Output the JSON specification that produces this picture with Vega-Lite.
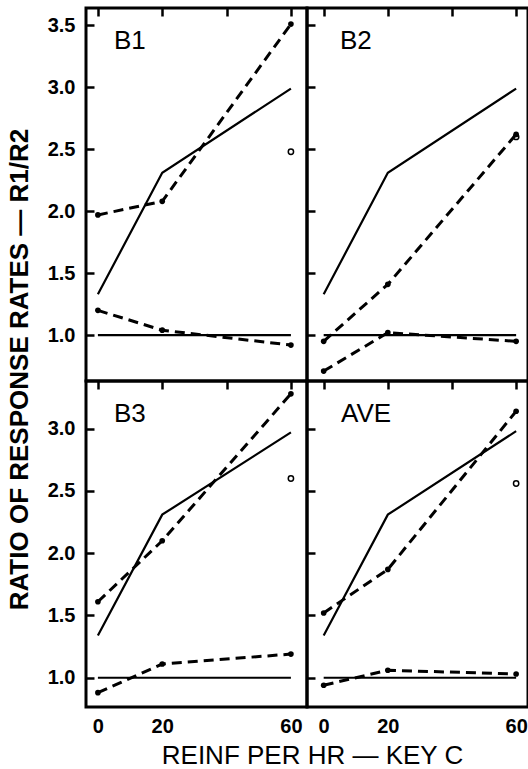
{
  "$schema": "https://vega.github.io/schema/vega-lite/v6.json",
  "padding": {"left": 4, "top": 6, "right": 0, "bottom": 0},
  "background": "white",
  "columns": 2,
  "spacing": 0,
  "bounds": "flush",
  "align": "each",
  "datasets": {
    "d": [
      {"panel": "B1", "series": "theory", "style": "solid", "x": 0, "y": 1.33},
      {"panel": "B1", "series": "theory", "style": "solid", "x": 20, "y": 2.31},
      {"panel": "B1", "series": "theory", "style": "solid", "x": 60, "y": 2.99},
      {"panel": "B1", "series": "unity", "style": "solid", "x": 0, "y": 1.0},
      {"panel": "B1", "series": "unity", "style": "solid", "x": 60, "y": 1.0},
      {"panel": "B1", "series": "upper", "style": "dashed", "x": 0, "y": 1.97},
      {"panel": "B1", "series": "upper", "style": "dashed", "x": 20, "y": 2.08},
      {"panel": "B1", "series": "upper", "style": "dashed", "x": 60, "y": 3.51},
      {"panel": "B1", "series": "lower", "style": "dashed", "x": 0, "y": 1.2},
      {"panel": "B1", "series": "lower", "style": "dashed", "x": 20, "y": 1.04},
      {"panel": "B1", "series": "lower", "style": "dashed", "x": 60, "y": 0.92},
      {"panel": "B1", "series": "open", "style": "open", "x": 60, "y": 2.48},

      {"panel": "B2", "series": "theory", "style": "solid", "x": 0, "y": 1.33},
      {"panel": "B2", "series": "theory", "style": "solid", "x": 20, "y": 2.31},
      {"panel": "B2", "series": "theory", "style": "solid", "x": 60, "y": 2.99},
      {"panel": "B2", "series": "unity", "style": "solid", "x": 0, "y": 1.0},
      {"panel": "B2", "series": "unity", "style": "solid", "x": 60, "y": 1.0},
      {"panel": "B2", "series": "upper", "style": "dashed", "x": 0, "y": 0.95},
      {"panel": "B2", "series": "upper", "style": "dashed", "x": 20, "y": 1.41},
      {"panel": "B2", "series": "upper", "style": "dashed", "x": 60, "y": 2.62},
      {"panel": "B2", "series": "lower", "style": "dashed", "x": 0, "y": 0.71},
      {"panel": "B2", "series": "lower", "style": "dashed", "x": 20, "y": 1.02},
      {"panel": "B2", "series": "lower", "style": "dashed", "x": 60, "y": 0.95},
      {"panel": "B2", "series": "open", "style": "open", "x": 60, "y": 2.6},

      {"panel": "B3", "series": "theory", "style": "solid", "x": 0, "y": 1.34},
      {"panel": "B3", "series": "theory", "style": "solid", "x": 20, "y": 2.31},
      {"panel": "B3", "series": "theory", "style": "solid", "x": 60, "y": 2.97},
      {"panel": "B3", "series": "unity", "style": "solid", "x": 0, "y": 1.0},
      {"panel": "B3", "series": "unity", "style": "solid", "x": 60, "y": 1.0},
      {"panel": "B3", "series": "upper", "style": "dashed", "x": 0, "y": 1.61},
      {"panel": "B3", "series": "upper", "style": "dashed", "x": 20, "y": 2.1},
      {"panel": "B3", "series": "upper", "style": "dashed", "x": 60, "y": 3.28},
      {"panel": "B3", "series": "lower", "style": "dashed", "x": 0, "y": 0.88},
      {"panel": "B3", "series": "lower", "style": "dashed", "x": 20, "y": 1.11},
      {"panel": "B3", "series": "lower", "style": "dashed", "x": 60, "y": 1.19},
      {"panel": "B3", "series": "open", "style": "open", "x": 60, "y": 2.6},

      {"panel": "AVE", "series": "theory", "style": "solid", "x": 0, "y": 1.34},
      {"panel": "AVE", "series": "theory", "style": "solid", "x": 20, "y": 2.31},
      {"panel": "AVE", "series": "theory", "style": "solid", "x": 60, "y": 2.98},
      {"panel": "AVE", "series": "unity", "style": "solid", "x": 0, "y": 1.0},
      {"panel": "AVE", "series": "unity", "style": "solid", "x": 60, "y": 1.0},
      {"panel": "AVE", "series": "upper", "style": "dashed", "x": 0, "y": 1.52},
      {"panel": "AVE", "series": "upper", "style": "dashed", "x": 20, "y": 1.87},
      {"panel": "AVE", "series": "upper", "style": "dashed", "x": 60, "y": 3.14},
      {"panel": "AVE", "series": "lower", "style": "dashed", "x": 0, "y": 0.94},
      {"panel": "AVE", "series": "lower", "style": "dashed", "x": 20, "y": 1.06},
      {"panel": "AVE", "series": "lower", "style": "dashed", "x": 60, "y": 1.03},
      {"panel": "AVE", "series": "open", "style": "open", "x": 60, "y": 2.56}
    ]
  },
  "concat": [
    {
      "width": 221, "height": 373,
      "title": {"text": "B1", "anchor": "start", "orient": "top", "frame": "group", "offset": -24, "dx": 28, "dy": 22, "baseline": "top"},
      "data": {"name": "d"},
      "transform": [{"filter": "datum.panel === 'B1'"}],
      "encoding": {
        "x": {"field": "x", "type": "quantitative", "scale": {"domain": [-3.7, 65], "nice": false, "zero": false},
              "axis": {"values": [0, 20, 40, 60], "labels": false, "title": null}},
        "y": {"field": "y", "type": "quantitative", "scale": {"domain": [0.63, 3.64], "nice": false, "zero": false},
              "axis": {"values": [1, 1.5, 2, 2.5, 3, 3.5], "format": ".1f", "title": "RATIO OF RESPONSE RATES — R1/R2",
                       "titleX": -67, "titleY": 361, "titleAlign": "center", "titleBaseline": "middle", "titleAngle": 270,
                       "titleFontSize": 26, "titleFontWeight": "bold"}}
      },
      "layer": [
        {"transform": [{"filter": "datum.style === 'solid'"}], "mark": {"type": "line", "color": "black", "strokeWidth": 2.2}, "encoding": {"detail": {"field": "series"}}},
        {"transform": [{"filter": "datum.style === 'dashed'"}], "mark": {"type": "line", "color": "black", "strokeWidth": 3, "strokeDash": [10, 6]}, "encoding": {"detail": {"field": "series"}}},
        {"transform": [{"filter": "datum.style === 'dashed'"}], "mark": {"type": "point", "filled": true, "color": "black", "size": 32, "opacity": 1}},
        {"transform": [{"filter": "datum.style === 'open'"}], "mark": {"type": "point", "filled": false, "color": "black", "size": 28, "strokeWidth": 1.5, "opacity": 1}}
      ]
    },
    {
      "width": 221, "height": 373,
      "title": {"text": "B2", "anchor": "start", "orient": "top", "frame": "group", "offset": -24, "dx": 33, "dy": 22, "baseline": "top"},
      "data": {"name": "d"},
      "transform": [{"filter": "datum.panel === 'B2'"}],
      "encoding": {
        "x": {"field": "x", "type": "quantitative", "scale": {"domain": [-5.2, 63.7], "nice": false, "zero": false},
              "axis": {"values": [0, 20, 40, 60], "labels": false, "title": null}},
        "y": {"field": "y", "type": "quantitative", "scale": {"domain": [0.63, 3.64], "nice": false, "zero": false},
              "axis": {"values": [1, 1.5, 2, 2.5, 3, 3.5], "labels": false, "title": null}}
      },
      "layer": [
        {"transform": [{"filter": "datum.style === 'solid'"}], "mark": {"type": "line", "color": "black", "strokeWidth": 2.2}, "encoding": {"detail": {"field": "series"}}},
        {"transform": [{"filter": "datum.style === 'dashed'"}], "mark": {"type": "line", "color": "black", "strokeWidth": 3, "strokeDash": [10, 6]}, "encoding": {"detail": {"field": "series"}}},
        {"transform": [{"filter": "datum.style === 'dashed'"}], "mark": {"type": "point", "filled": true, "color": "black", "size": 32, "opacity": 1}},
        {"transform": [{"filter": "datum.style === 'open'"}], "mark": {"type": "point", "filled": false, "color": "black", "size": 28, "strokeWidth": 1.5, "opacity": 1}}
      ]
    },
    {
      "width": 221, "height": 326,
      "title": {"text": "B3", "anchor": "start", "orient": "top", "frame": "group", "offset": -24, "dx": 28, "dy": 22, "baseline": "top"},
      "data": {"name": "d"},
      "transform": [{"filter": "datum.panel === 'B3'"}],
      "encoding": {
        "x": {"field": "x", "type": "quantitative", "scale": {"domain": [-3.7, 65], "nice": false, "zero": false},
              "axis": {"values": [0, 20, 40, 60], "labelExpr": "datum.value == 40 ? '' : datum.label",
                       "title": "REINF PER HR — KEY C", "titleX": 226, "titleY": 48, "titleAlign": "center", "titleBaseline": "middle",
                       "titleFontSize": 26, "titleFontWeight": "normal"}},
        "y": {"field": "y", "type": "quantitative", "scale": {"domain": [0.765, 3.383], "nice": false, "zero": false},
              "axis": {"values": [1, 1.5, 2, 2.5, 3], "format": ".1f", "title": null}}
      },
      "layer": [
        {"transform": [{"filter": "datum.style === 'solid'"}], "mark": {"type": "line", "color": "black", "strokeWidth": 2.2}, "encoding": {"detail": {"field": "series"}}},
        {"transform": [{"filter": "datum.style === 'dashed'"}], "mark": {"type": "line", "color": "black", "strokeWidth": 3, "strokeDash": [10, 6]}, "encoding": {"detail": {"field": "series"}}},
        {"transform": [{"filter": "datum.style === 'dashed'"}], "mark": {"type": "point", "filled": true, "color": "black", "size": 32, "opacity": 1}},
        {"transform": [{"filter": "datum.style === 'open'"}], "mark": {"type": "point", "filled": false, "color": "black", "size": 28, "strokeWidth": 1.5, "opacity": 1}}
      ]
    },
    {
      "width": 221, "height": 326,
      "title": {"text": "AVE", "anchor": "start", "orient": "top", "frame": "group", "offset": -24, "dx": 34, "dy": 22, "baseline": "top"},
      "data": {"name": "d"},
      "transform": [{"filter": "datum.panel === 'AVE'"}],
      "encoding": {
        "x": {"field": "x", "type": "quantitative", "scale": {"domain": [-5.2, 63.7], "nice": false, "zero": false},
              "axis": {"values": [0, 20, 40, 60], "labelExpr": "datum.value == 40 ? '' : datum.label", "title": null}},
        "y": {"field": "y", "type": "quantitative", "scale": {"domain": [0.765, 3.383], "nice": false, "zero": false},
              "axis": {"values": [1, 1.5, 2, 2.5, 3], "labels": false, "title": null}}
      },
      "layer": [
        {"transform": [{"filter": "datum.style === 'solid'"}], "mark": {"type": "line", "color": "black", "strokeWidth": 2.2}, "encoding": {"detail": {"field": "series"}}},
        {"transform": [{"filter": "datum.style === 'dashed'"}], "mark": {"type": "line", "color": "black", "strokeWidth": 3, "strokeDash": [10, 6]}, "encoding": {"detail": {"field": "series"}}},
        {"transform": [{"filter": "datum.style === 'dashed'"}], "mark": {"type": "point", "filled": true, "color": "black", "size": 32, "opacity": 1}},
        {"transform": [{"filter": "datum.style === 'open'"}], "mark": {"type": "point", "filled": false, "color": "black", "size": 28, "strokeWidth": 1.5, "opacity": 1}}
      ]
    }
  ],
  "resolve": {"scale": {"x": "independent", "y": "independent"}},
  "config": {
    "font": "Liberation Sans",
    "view": {"stroke": "black", "strokeWidth": 3},
    "axis": {
      "domain": false, "ticks": false,
      "grid": true, "gridColor": "#000000", "gridOpacity": 1, "gridWidth": 2.5, "gridDash": [8, 2000],
      "labelFont": "Liberation Sans", "labelFontWeight": "bold", "labelFontSize": 20, "labelColor": "black",
      "titleFont": "Liberation Sans", "titleColor": "black"
    },
    "axisY": {"labelPadding": 11},
    "axisX": {"labelPadding": 9, "labelFlush": false},
    "title": {"font": "Liberation Sans", "fontSize": 26, "fontWeight": "normal", "color": "black"}
  }
}
